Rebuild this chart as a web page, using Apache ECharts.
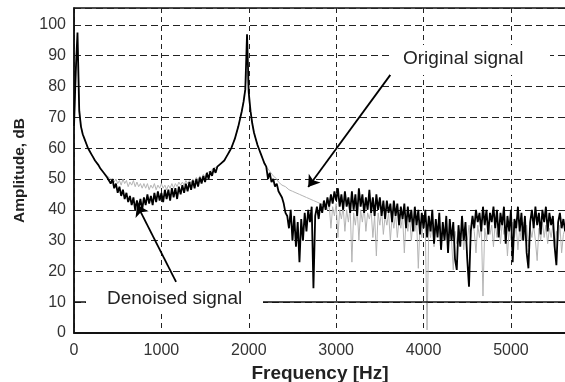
<!DOCTYPE html>
<html>
<head>
<meta charset="utf-8">
<script src="https://cdn.jsdelivr.net/npm/echarts@6/dist/echarts.min.js"></script>
<style>
  html, body { margin: 0; padding: 0; background: #fff; }
  #main { width: 565px; height: 382px; }
</style>
</head>
<body>
<div id="main"></div>
<script>
// spectrum sampled every 20 Hz, 0 .. 5620 Hz
var freqStep = 20;

var denoised = [
  67, 85, 97.5, 72, 67, 64.5, 63, 61.5, 60, 59,
  58, 57, 56, 55.5, 54.5, 53.5, 53, 52, 51.5, 50.5,
  51, 48.5, 50, 47, 48.5, 45.5, 47.5, 44.5, 46.5, 43.5,
  45.5, 42.5, 44.5, 41.5, 44, 40, 43, 40.5, 43.5, 40,
  44, 41.5, 45, 42, 44.5, 41.5, 45.5, 42.5, 46, 43,
  45.5, 42.5, 46.5, 43.5, 46.5, 43, 47, 44, 47, 43.5,
  47.5, 45, 48, 45.5, 48.5, 46, 49, 46.5, 49.5, 47,
  50, 47.5, 50.5, 48.5, 51, 49, 52, 50, 52.5, 51,
  53.5, 52, 54, 53.5, 55, 55, 56, 57, 58, 59,
  60, 61.5, 63, 65, 67, 69.5, 72, 75, 79, 97,
  78, 72, 68, 65, 63, 61, 59.5, 58, 56.5, 55,
  54, 50, 52, 49, 50, 47.5, 48.5, 46, 46.5, 44,
  42, 39, 38, 34, 40, 30, 38, 28, 36, 23,
  37, 30, 39, 33, 40, 36, 41, 14.5, 38, 41,
  37, 42, 39, 43, 40, 44, 41, 45, 42, 46,
  43, 47, 41, 45, 40, 46, 41, 44, 39, 46,
  40, 45, 38, 47, 41, 45, 39, 44, 40, 46.5,
  39, 44, 38, 45, 40, 44, 38, 43, 37, 43,
  39, 42, 36, 43, 38, 42, 35, 41, 37, 42,
  34, 41, 36, 40, 33, 41, 35, 40, 32, 39,
  34, 40, 31, 38, 33, 40, 29, 37, 31, 39,
  27, 36, 30, 38, 26, 37, 30, 36, 24, 20.5,
  35, 28, 38, 30, 36, 24, 15, 33, 38, 34,
  40, 36, 39, 33, 41, 35, 40, 32, 39, 36,
  41, 34, 40, 31, 39, 35, 41, 29, 38, 33,
  40, 23, 37, 34, 41, 33, 39, 30, 38, 26,
  21, 36, 40, 34, 41, 35, 39, 32, 40, 36,
  41, 33, 39, 35, 38, 28, 22, 36, 39, 34,
  37, 33
];

var original = [
  67, 82, 95, 74, 67, 64.5, 63, 61.5, 60, 59,
  58, 57, 56, 55.5, 54.5, 53.5, 53, 52, 51.5, 51,
  50.5, 50, 49.5, 49, 50, 48.5, 49.5, 48, 50, 48.5,
  49.5, 47.5, 49, 48, 49.5, 47.5, 49, 47.5, 48.5, 47,
  48.5, 47, 48.5, 46.5, 48, 47, 48.5, 46.5, 48, 47,
  48.5, 47, 48, 46.5, 48, 47, 48.5, 47, 48.5, 47.5,
  49, 48, 49, 48, 49.5, 48.5, 49.5, 48.5, 50, 49,
  50.5, 49.5, 51, 50, 51.5, 50.5, 52, 51.5, 52.5, 52,
  53.5, 53, 54, 54, 55, 55.5, 56, 57, 58, 59,
  60, 61.5, 63, 65, 67, 69.5, 72, 75, 80, 85,
  76, 72, 68, 65, 63, 61, 59.5, 58, 56.5, 55,
  54, 53.5, 52.5, 52, 51, 50.5, 50, 49, 49.5, 48,
  48.5, 47.5, 48, 46.5, 47, 46, 46.5, 45.5, 46, 45,
  45.5, 44.5, 45, 44, 44.5, 43.5, 44, 43, 43.5, 42.5,
  43, 42, 42.5, 41.5, 42, 40, 42, 34, 41, 38,
  42, 31, 40, 37, 41, 33, 40, 36, 41, 23,
  39, 35, 41, 30, 40, 36, 41, 33, 39, 37,
  40, 31, 38, 25, 39, 35, 40, 32, 38, 35,
  39, 30, 38, 34, 39, 31, 37, 34, 38, 26,
  37, 33, 38, 30, 36, 33, 37, 21, 36, 31,
  37, 34, 1, 35, 31, 36, 28, 35, 32, 36,
  29, 34, 31, 36, 27, 34, 30, 20.5, 33, 29,
  34, 31, 35, 27, 34, 30, 35, 31, 36, 33,
  26, 35, 31, 36, 12, 34, 30, 36, 32, 35,
  28, 36, 31, 35, 29, 36, 32, 35, 25, 34,
  30, 36, 31, 35, 27, 34, 30, 36, 32, 35,
  28, 34, 31, 35, 30, 23.5, 34, 30, 36, 31,
  35, 29, 34, 31, 35, 27, 33, 30, 35, 26,
  32, 34
];

var xTicks = [0, 1000, 2000, 3000, 4000, 5000];
var yTicks = [0, 10, 20, 30, 40, 50, 60, 70, 80, 90, 100];

function pairs(vals) {
  return vals.map(function (v, i) { return [i * freqStep, v]; });
}

var font = 'Liberation Sans, Arial, Helvetica, sans-serif';
var myChart = echarts.init(document.getElementById('main'));

var option = {
  animation: false,
  backgroundColor: '#fff',
  grid: {
    left: 74, right: -1, top: 8, bottom: 49,
    outerBoundsMode: 'none', containLabel: false,
    show: true, borderColor: '#111', borderWidth: 1.5
  },
  xAxis: {
    type: 'value',
    min: 0, max: 5630, interval: 1000,
    offset: 4,
    name: 'Frequency [Hz]',
    nameLocation: 'middle',
    nameGap: 22,
    nameTextStyle: { fontFamily: font, fontSize: 19, fontWeight: 'bold', color: '#222' },
    axisLine: { show: true, lineStyle: { color: '#111', width: 1.5 } },
    axisTick: { show: false },
    axisLabel: {
      fontFamily: font, fontSize: 16, color: '#333', margin: 6,
      showMaxLabel: false,
      formatter: function (v) { return xTicks.indexOf(v) >= 0 ? String(v) : ''; }
    },
    splitLine: { show: true, lineStyle: { color: '#222', type: [5, 4], width: 1 } }
  },
  yAxis: {
    type: 'value',
    min: 0, max: 105.5, interval: 10,
    name: 'Amplitude, dB',
    nameLocation: 'middle',
    nameGap: 46,
    nameTextStyle: { fontFamily: font, fontSize: 15.5, fontWeight: 'bold', color: '#222' },
    axisLine: { show: true, lineStyle: { color: '#111', width: 1.5 } },
    axisTick: { show: false },
    axisLabel: {
      fontFamily: font, fontSize: 16, color: '#333', margin: 8,
      showMaxLabel: false,
      formatter: function (v) { return yTicks.indexOf(v) >= 0 ? String(v) : ''; }
    },
    splitLine: { show: true, lineStyle: { color: '#222', type: [7, 4], width: 1 } }
  },
  series: [
    {
      name: 'Original signal',
      type: 'line',
      data: pairs(original),
      showSymbol: false,
      lineStyle: { color: '#b4b4b4', width: 1 },
      z: 2,
      markLine: {
        silent: true,
        symbol: 'none',
        label: { show: false },
        lineStyle: { color: '#111', type: 'solid', width: 1.5 },
        data: [{ yAxis: 10 }, { yAxis: 0 }]
      }
    },
    {
      name: 'Denoised signal',
      type: 'line',
      data: pairs(denoised),
      showSymbol: false,
      lineStyle: { color: '#000', width: 1.8 },
      z: 3,
      markLine: {
        silent: true,
        symbol: ['none', 'arrow'],
        symbolSize: 11,
        label: { show: false },
        lineStyle: { color: '#000', type: 'solid', width: 1.8 },
        data: [
          [{ coord: [3620, 83.8] }, { coord: [2680, 47.4] }],
          [{ coord: [1168, 16.6] }, { coord: [722, 41.6] }]
        ]
      }
    }
  ],
  graphic: [
    { type: 'rect', z: 100, shape: { x: 390, y: 45, width: 160, height: 30 }, style: { fill: '#fff' } },
    { type: 'text', z: 101, left: 403, top: 49, style: { text: 'Original signal', fontFamily: font, fontSize: 19, fill: '#222' } },
    { type: 'rect', z: 100, shape: { x: 86, y: 283, width: 177, height: 29 }, style: { fill: '#fff' } },
    { type: 'text', z: 101, left: 107, top: 289, style: { text: 'Denoised signal', fontFamily: font, fontSize: 19, fill: '#222' } }
  ]
};

myChart.setOption(option);
</script>
</body>
</html>
